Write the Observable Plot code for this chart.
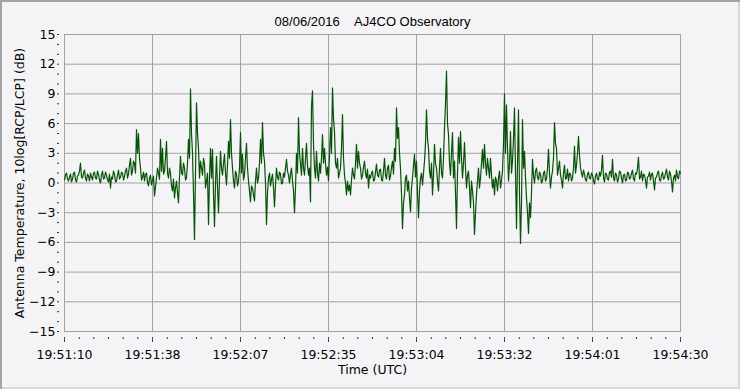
<!DOCTYPE html>
<html>
<head>
<meta charset="utf-8">
<script src="https://cdn.jsdelivr.net/npm/d3@7"></script>
<script src="https://cdn.jsdelivr.net/npm/@observablehq/plot@0.6"></script>
<style>
  html, body { margin: 0; padding: 0; background: #f4f4f6; }
  #chart svg { display: block; box-shadow: inset 2px 2px 0 #a3a3a3, inset -2px -2px 0 #d8d8d8; }
</style>
</head>
<body>
<div id="chart"></div>
<script>
// Title and axis labels
const title = "08/06/2016\u00a0\u00a0\u00a0\u00a0AJ4CO Observatory";
const xLabel = "Time (UTC)";
const yLabel = "Antenna Temperature, 10log[RCP/LCP] (dB)";

// Time axis: start 19:51:10 UTC, span 200 s, 7 major divisions, 6 minor per division
const startSeconds = 19 * 3600 + 51 * 60 + 10;
const spanSeconds = 200;
const majorDivisions = 7;
const minorPerDivision = 6;

// Y axis
const yMin = -15, yMax = 15, yStep = 3;

// Series: 10log(RCP/LCP) in dB, read at every other sample (309 samples)
const dbMain = [
  0.3, 1.0, 0.2, 0.9, 0.4, 1.1, 0.1, 0.8, 2.0, 0.5,
  1.3, 0.2, 0.7, 1.0, 0.3, 1.1, 0.4, 0.9, 0.0, 1.2,
  0.5, 0.8, 0.1, -0.5, 0.4, 0.9, 0.2, 1.3, 0.6, 1.0,
  0.7, 1.5, 0.9, 2.5, 1.2, 2.0, 5.4, 5.0, 1.5, 0.6,
  0.2, 1.0, -0.3, 0.8, 0.3, -1.3, 0.5, 1.0, 4.4, 3.5,
  1.2, 4.2, 0.5, 1.0, -0.8, -1.5, 0.2, -2.0, 2.7, 0.8,
  1.5, 0.5, 4.4, 9.5, 3.0, -5.7, 8.1, 3.5, 2.2, 0.8,
  1.9, 0.2, -4.2, 3.5, 3.4, -4.4, 2.7, -3.0, 3.2, 0.8,
  2.9, -0.2, 4.2, 6.4, 1.5, -0.5, 0.9, 0.2, 5.1, 2.9,
  0.8, 4.0, 0.2, -1.9, -0.5, -1.8, 1.5, 0.5, 4.4, 6.1,
  2.2, -4.2, 0.5, -0.3, 0.9, -2.4, 1.5, 0.3, 0.9, 0.0,
  0.6, 2.4, 0.8, 0.9, 0.2, -3.0, 3.0, 6.6, 1.9, 3.5,
  0.8, 4.0, 0.8, -1.9, 9.3, 1.5, 3.2, 0.2, 1.0, 4.9,
  3.5, 0.8, 0.2, 5.6, 9.6, 5.2, 1.5, 0.5, 1.5, 6.9,
  0.8, -1.2, -0.8, -1.2, 1.5, 0.4, 3.9, 3.2, 1.5, 0.8,
  2.2, 0.5, -0.5, 0.5, 1.2, 0.3, 1.9, 0.6, 1.4, 0.2,
  2.5, 0.4, 1.8, 0.7, 2.2, 3.5, 7.6, 5.6, 1.5, -4.6,
  -1.2, 0.8, 0.2, -2.9, 0.5, 2.9, 2.2, -3.5, 0.5, -0.2,
  2.2, 7.4, 3.5, 0.5, -1.2, 3.9, 1.5, -0.8, 3.5, 0.5,
  5.6, 11.3, 4.9, 0.8, 5.1, 2.2, -4.6, 4.6, 5.2, 0.5,
  4.1, -0.5, 1.2, -2.5, -0.8, -5.2, -1.2, 1.5, 0.5, 3.4,
  3.9, 0.8, 1.5, 2.5, -0.5, -1.2, 0.2, 0.5, -0.5, 1.2,
  9.0, 7.9, 0.2, 5.2, 2.2, 7.6, -4.6, 7.4, -6.1, 6.4,
  3.2, -1.5, -5.1, -3.5, 2.4, 0.0, 1.5, 0.3, 0.9, 0.2,
  1.2, 0.4, 3.4, -0.5, 1.2, 6.1, 3.5, 1.5, 0.8, -0.5,
  1.8, 0.5, 0.2, 0.9, 0.5, 3.7, 1.8, 4.7, 1.5, 0.6,
  0.9, 0.2, 1.1, 0.4, 0.8, -0.1, 1.0, 0.3, 0.7, 2.8,
  0.1, 0.9, 0.3, 1.2, 2.4, 0.2, 0.8, 0.4, 1.1, 0.0,
  0.9, 0.3, 1.0, 0.5, 1.3, 0.2, 0.9, 2.6, 0.6, 0.2,
  0.8, -0.5, 0.7, 0.3, 1.0, -0.7, 0.6, 1.2, 0.2, 1.1,
  0.5, 1.4, 0.3, 0.9, -0.9, 0.8, 1.3, 0.4, 1.0
];

// The samples lying between consecutive dbMain samples (308 samples)
const dbBetween = [
  0.8, 0.4, 0.6, 0.1, 1.0, 0.3, 0.7, 1.2, 0.6, 1.0,
  0.5, 0.9, 0.2, 0.6, 1.0, 0.5, 1.2, 0.3, 0.8, 0.4,
  1.1, 0.3, 0.9, 0.6, 1.2, 0.1, 0.8, 0.4, 1.1, 0.3,
  1.2, 0.5, 1.8, 0.8, 2.2, 1.0, 3.0, 2.5, 0.3, 1.1,
  0.9, 0.1, 0.5, -0.2, 0.7, -0.4, 1.5, 0.4, 1.2, 0.9,
  2.5, 1.0, 1.5, -0.3, 0.4, -0.5, -1.0, 0.6, 1.0, 2.0,
  0.3, 2.0, 2.5, 5.0, -1.0, 1.0, 5.0, 0.5, 1.5, 2.5,
  -0.5, 1.0, 0.5, 0.5, -1.0, 0.0, -0.5, 0.5, 1.5, 2.0,
  1.0, 1.8, 2.5, 3.0, 0.2, 1.2, -0.3, 1.5, 1.0, 0.3,
  2.5, 1.5, -0.8, -0.3, -1.2, 0.2, 0.0, 2.0, 2.0, 3.0,
  0.0, -1.0, 1.0, 0.4, -0.5, -0.2, 0.6, 1.1, -0.1, 1.0,
  1.5, 1.2, 0.0, 1.5, -0.8, -0.5, 1.0, 3.0, 0.8, 1.5,
  2.5, 1.8, 1.5, 7.8, 4.0, 0.5, 1.0, 2.0, 2.5, 2.0,
  2.0, 1.6, 2.8, 3.0, 6.5, 2.0, 2.5, 1.0, 3.5, 2.5,
  0.0, 0.2, -0.2, 0.3, 0.8, 2.0, 1.5, 2.0, 0.4, 1.6,
  1.0, 1.4, 0.8, 1.0, 0.2, 1.1, 0.8, 1.3, 0.3, 1.2,
  0.8, 1.5, 0.3, 1.6, 0.9, 2.2, 4.5, 3.0, -1.0, -2.0,
  0.5, -0.8, -1.5, -0.5, 1.8, 0.6, -1.0, -0.8, 1.0, 1.0,
  4.0, 4.5, 1.2, 2.0, 0.8, 2.0, 0.2, 1.5, 1.0, 2.5,
  8.0, 6.0, 2.0, 3.0, 0.5, -1.0, 1.0, 2.0, 2.5, 2.0,
  1.5, 0.8, -0.5, 0.2, -2.0, -3.0, 0.2, -0.5, 2.0, 1.5,
  2.0, 2.5, 0.5, 0.8, 0.4, 0.6, -0.8, 1.2, 0.3, 4.0,
  3.0, 3.5, 2.0, 1.0, 4.5, 1.0, 2.0, -1.0, -2.0, 1.5,
  0.5, -3.0, -2.0, -1.0, 0.8, 1.2, 0.6, 1.1, 0.0, 1.0,
  0.2, 1.5, 1.0, 0.6, 2.5, 4.0, 0.8, 2.2, 0.3, 1.0,
  0.4, 1.4, 1.0, 0.2, 1.5, 1.0, 3.0, 2.8, 1.0, 1.3,
  0.3, 0.9, 0.5, 1.0, 0.2, 0.7, 0.4, 1.1, 1.3, 0.5,
  1.0, 0.4, 1.1, 0.6, 0.5, 1.0, 0.1, 1.2, 0.5, 0.8,
  0.2, 1.1, 0.4, 1.0, 0.4, 1.0, 1.5, 0.4, 1.2, 0.9,
  0.3, 0.6, 1.1, 0.9, 0.2, 0.5, 1.0, 0.3, 0.8, 0.4,
  1.0, 0.6, 1.2, 0.2, 0.5, 0.2, 0.6, 1.2
];

// Build the full sample table by interleaving the two read-off lists
const dbValues = [];
dbMain.forEach((v, i) => {
  dbValues.push(v);
  if (i < dbBetween.length) dbValues.push(dbBetween[i]);
});
const sampleStep = spanSeconds / (dbValues.length - 1);
const series = dbValues.map((v, i) => ({t: i * sampleStep, db: v}));

const xMajor = d3.range(majorDivisions + 1).map(i => i * spanSeconds / majorDivisions);
const xMinor = d3.range(majorDivisions * minorPerDivision + 1)
  .map(i => i * spanSeconds / (majorDivisions * minorPerDivision))
  .filter((_, i) => i % minorPerDivision !== 0);
const yMajor = d3.range(yMin, yMax + 1, yStep);
const yMinor = d3.range(yMin, yMax + 1, 1);

function fmtTime(t) {
  const s = Math.floor(startSeconds + t + 1e-6);
  const hh = Math.floor(s / 3600), mm = Math.floor((s % 3600) / 60), ss = s % 60;
  return [hh, mm, ss].map(n => String(n).padStart(2, "0")).join(":");
}

const sans = "DejaVu Sans";
const gridColor = "#a3a3a3";

const chart = Plot.plot({
  width: 740,
  height: 389,
  marginTop: 34,
  marginRight: 60,
  marginBottom: 58,
  marginLeft: 64,
  style: {background: "#f4f4f6", fontFamily: sans, fontSize: "12.5px", color: "#000"},
  x: {domain: [0, spanSeconds], axis: null},
  y: {domain: [yMin, yMax], axis: null},
  marks: [
    Plot.gridX(xMajor, {stroke: gridColor, strokeOpacity: 1}),
    Plot.gridY(yMajor, {stroke: gridColor, strokeOpacity: 1}),
    Plot.frame({stroke: gridColor}),
    Plot.line(series, {x: "t", y: "db", stroke: "#075207", strokeWidth: 1.2}),
    // y axis: ticks detached from frame, then labels
    Plot.axisY(yMinor, {tickSize: 2, text: null, dx: -5, stroke: "#333", label: null}),
    Plot.axisY(yMajor, {tickSize: 0, tickPadding: 9, fontSize: 12.5, fontFamily: sans, fill: "#000", label: null}),
    // x axis: ticks detached below frame, then labels
    Plot.axisX(xMinor, {anchor: "bottom", tickSize: 2, text: null, dy: 6, stroke: "#333", label: null}),
    Plot.axisX(xMajor, {anchor: "bottom", tickSize: 5, text: null, dy: 6, stroke: "#2a4a6a", label: null}),
    Plot.axisX(xMajor, {anchor: "bottom", tickSize: 0, tickPadding: 19, tickFormat: fmtTime, fontSize: 12.5, fontFamily: sans, fill: "#000", label: null}),
    // axis titles and chart title
    Plot.text([xLabel], {frameAnchor: "bottom", dy: 42, fontSize: 12.5, fontFamily: sans, fill: "#000"}),
    Plot.text([yLabel], {frameAnchor: "left", dx: -45, rotate: -90, textAnchor: "middle", fontSize: 12.5, fontFamily: sans, fill: "#000"}),
    Plot.text([title], {frameAnchor: "top", dy: -18, fontSize: 13, fontFamily: "Liberation Sans", fill: "#000"})
  ]
});

document.getElementById("chart").append(chart);
</script>
</body>
</html>
